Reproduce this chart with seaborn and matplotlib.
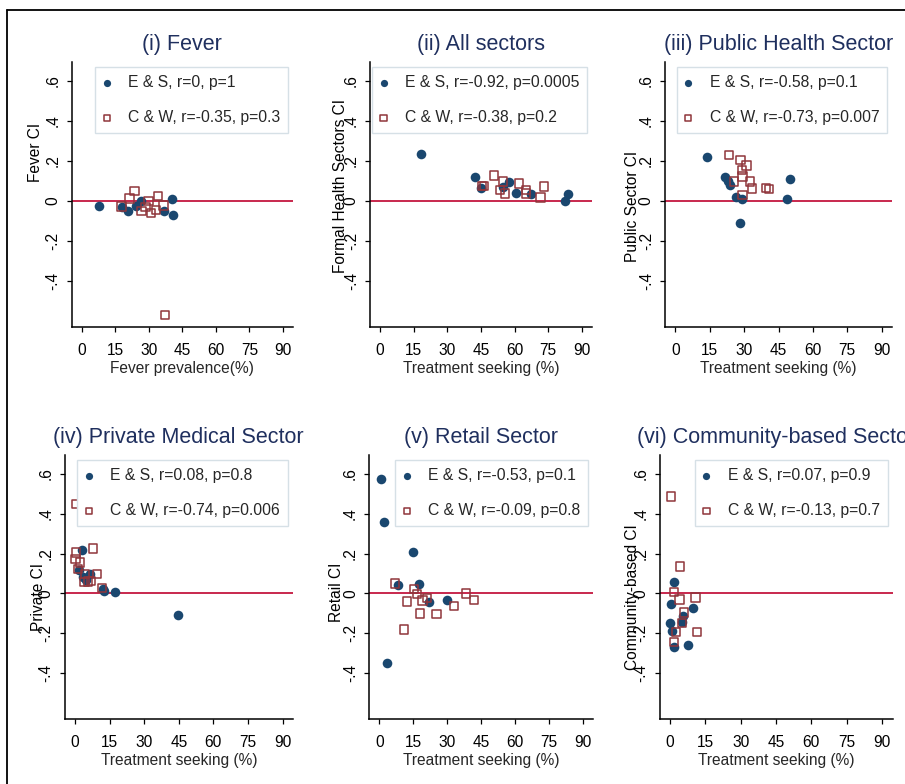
import matplotlib
matplotlib.use("Agg")
import matplotlib.pyplot as plt
from matplotlib.lines import Line2D
import seaborn as sns
import pandas as pd

# ---------------- data ----------------
titles = ["(i) Fever", "(ii) All sectors", "(iii) Public Health Sector",
          "(iv) Private Medical Sector", "(v) Retail Sector", "(vi) Community-based Sector"]
xlabels = ["Fever prevalence(%)", "Treatment seeking (%)", "Treatment seeking (%)",
           "Treatment seeking (%)", "Treatment seeking (%)", "Treatment seeking (%)"]
ylabels = ["Fever CI", "Formal Health Sectors CI", "Public Sector CI",
           "Private CI", "Retail CI", "Community-based CI"]
es_labels = ["E & S, r=0, p=1", "E & S, r=-0.92, p=0.0005", "E & S, r=-0.58, p=0.1",
             "E & S, r=0.08, p=0.8", "E & S, r=-0.53, p=0.1", "E & S, r=0.07, p=0.9"]
cw_labels = ["C & W, r=-0.35, p=0.3", "C & W, r=-0.38, p=0.2", "C & W, r=-0.73, p=0.007",
             "C & W, r=-0.74, p=0.006", "C & W, r=-0.09, p=0.8", "C & W, r=-0.13, p=0.7"]

x_ticks = [0, 15, 30, 45, 60, 75, 90]
y_ticks = [-0.4, -0.2, 0, 0.2, 0.4, 0.6]
y_ticklabels = ["-.4", "-.2", "0", ".2", ".4", ".6"]

fever_es_x = [7.8, 18.1, 20.5, 24.2, 26.5, 36.9, 40.4, 40.9]
fever_es_y = [-0.025, -0.028, -0.05, -0.025, 0.0, -0.05, 0.008, -0.07]
fever_cw_x = [17.8, 21.4, 23.6, 26.7, 28.5, 29.8, 31.0, 33.3, 34.2, 36.6, 37.2]
fever_cw_y = [-0.028, 0.013, 0.05, -0.05, -0.03, 0.0, -0.06, -0.045, 0.025, -0.023, -0.57]

all_es_x = [18.1, 42.3, 45.0, 54.6, 57.6, 60.4, 67.4, 82.6, 83.8]
all_es_y = [0.237, 0.118, 0.063, 0.068, 0.093, 0.038, 0.035, 0.0, 0.033]
all_cw_x = [45.4, 46.3, 50.9, 54.9, 53.5, 55.6, 61.9, 65.0, 65.0, 71.6, 73.1]
all_cw_y = [0.075, 0.075, 0.127, 0.097, 0.055, 0.037, 0.087, 0.055, 0.037, 0.018, 0.072]

pub_es_x = [13.7, 21.7, 22.9, 23.9, 26.4, 29.0, 28.3, 48.8, 50.0]
pub_es_y = [0.22, 0.122, 0.10, 0.082, 0.022, 0.008, -0.11, 0.01, 0.112]
pub_cw_x = [23.3, 28.4, 31.0, 29.1, 29.3, 25.5, 32.6, 33.5, 39.5, 40.9, 29.3]
pub_cw_y = [0.23, 0.205, 0.178, 0.155, 0.122, 0.098, 0.097, 0.063, 0.065, 0.06, 0.03]

priv_es_x = [3.2, 1.7, 3.6, 6.5, 4.6, 12.0, 12.8, 17.3, 44.5]
priv_es_y = [0.217, 0.117, 0.084, 0.10, 0.07, 0.021, 0.01, 0.008, -0.109]
priv_cw_x = [0.7, 7.8, 0.6, 0.3, 2.3, 1.4, 4.3, 9.5, 4.2, 5.6, 6.9, 11.7]
priv_cw_y = [0.45, 0.226, 0.205, 0.172, 0.155, 0.122, 0.098, 0.098, 0.056, 0.06, 0.063, 0.026]

ret_es_x = [0.6, 1.9, 8.1, 14.8, 17.7, 21.7, 29.7, 3.5]
ret_es_y = [0.573, 0.357, 0.043, 0.208, 0.048, -0.045, -0.031, -0.35]
ret_cw_x = [6.8, 12.1, 10.9, 15.2, 16.7, 19.0, 21.1, 18.0, 25.3, 33.1, 38.2, 41.7]
ret_cw_y = [0.05, -0.041, -0.18, 0.023, -0.002, -0.036, -0.023, -0.1, -0.102, -0.064, 0.0, -0.033]

com_es_x = [1.7, 0.5, 0.1, 0.8, 1.5, 5.6, 5.1, 7.4, 9.7]
com_es_y = [0.058, -0.055, -0.15, -0.187, -0.27, -0.112, -0.142, -0.26, -0.073]
com_cw_x = [0.4, 4.2, 1.8, 4.0, 10.8, 5.9, 5.1, 2.5, 11.4, 1.7]
com_cw_y = [0.486, 0.136, 0.007, -0.03, -0.021, -0.096, -0.149, -0.192, -0.192, -0.245]

es_x = [fever_es_x, all_es_x, pub_es_x, priv_es_x, ret_es_x, com_es_x]
es_y = [fever_es_y, all_es_y, pub_es_y, priv_es_y, ret_es_y, com_es_y]
cw_x = [fever_cw_x, all_cw_x, pub_cw_x, priv_cw_x, ret_cw_x, com_cw_x]
cw_y = [fever_cw_y, all_cw_y, pub_cw_y, priv_cw_y, ret_cw_y, com_cw_y]

# ---------------- style ----------------
sns.set_style("ticks")
plt.rcParams["font.family"] = ["Liberation Sans", "DejaVu Sans"]

NAVY = "#1a476f"
MAROON = "#90353b"
REF = "#c4173f"
TITLE_C = "#1f2f5e"

W, H = 905, 784
fig = plt.figure(figsize=(W / 100, H / 100), dpi=100)

# axes boxes in pixels: left, right, top, bottom
boxes = [(71.7, 293, 62, 327), (370, 592, 62, 327), (665, 892, 62, 327),
         (64.5, 293, 455, 719), (369.3, 593, 455, 719), (659.5, 892.5, 455, 719)]
ytitle_pos = [(35, 152), (340, 186), (632, 206), (38, 597), (336, 592), (632, 597)]

for i, (l, r, t, b) in enumerate(boxes):
    ax = fig.add_axes([l / W, 1 - b / H, (r - l) / W, (b - t) / H])
    ax.axhline(0, color=REF, lw=1.3, zorder=1)
    df_es = pd.DataFrame({"x": es_x[i], "y": es_y[i]})
    df_cw = pd.DataFrame({"x": cw_x[i], "y": cw_y[i]})
    sns.scatterplot(data=df_es, x="x", y="y", ax=ax, marker="o", color=NAVY,
                    edgecolor=NAVY, linewidth=0, s=48, label=es_labels[i], zorder=3)
    sns.scatterplot(data=df_cw, x="x", y="y", ax=ax, marker="s", facecolors="none",
                    edgecolor=MAROON, linewidth=1.1, s=36, label=cw_labels[i], zorder=3)
    ax.set_xlim(-4.5, 94.5)
    ax.set_ylim(-0.63, 0.695)
    ax.set_xticks(x_ticks)
    ax.set_xticklabels([str(v) for v in x_ticks])
    ax.set_yticks(y_ticks)
    ax.set_yticklabels(y_ticklabels, rotation=90, va="center")
    for s in ["top", "right"]:
        ax.spines[s].set_visible(False)
    for s in ["left", "bottom"]:
        ax.spines[s].set_linewidth(1.1)
        ax.spines[s].set_color("black")
    ax.tick_params(axis="x", length=3.6, width=0.9, pad=8, labelsize=11.2, colors="black")
    ax.tick_params(axis="y", length=3.6, width=0.9, pad=4.5, labelsize=11.2, colors="black")
    ax.set_xlabel(xlabels[i], fontsize=11.2, labelpad=2)
    ax.set_ylabel("")
    ax.text(0.5, 1 + 17.5 / (b - t), titles[i], transform=ax.transAxes,
            ha="center", va="center", fontsize=15.5, color=TITLE_C, clip_on=False)
    yx, yy = ytitle_pos[i]
    fig.text(yx / W, 1 - yy / H, ylabels[i], rotation=90, ha="center", va="center",
             fontsize=11.2, color="black")
    leg = ax.legend(loc="upper right",
                    bbox_to_anchor=(1 - 5 / (r - l), 1 - 5 / (b - t)),
                    borderaxespad=0, fontsize=11.3, frameon=True, fancybox=False,
                    handlelength=0.5, handletextpad=1.1, labelspacing=1.3,
                    borderpad=0.5, markerscale=0.75)
    leg.get_frame().set_edgecolor("#d6e0e6")
    leg.get_frame().set_linewidth(1.0)
    leg.get_frame().set_facecolor("white")
    leg.get_frame().set_alpha(1)

# outer border (top and left visible)
fig.add_artist(Line2D([7 / W, 1], [1 - 10 / H, 1 - 10 / H], transform=fig.transFigure,
                      color="black", lw=1.3))
fig.add_artist(Line2D([7 / W, 7 / W], [0, 1 - 10 / H], transform=fig.transFigure,
                      color="black", lw=1.3))

fig.savefig("out.png", dpi=100, facecolor="white")
